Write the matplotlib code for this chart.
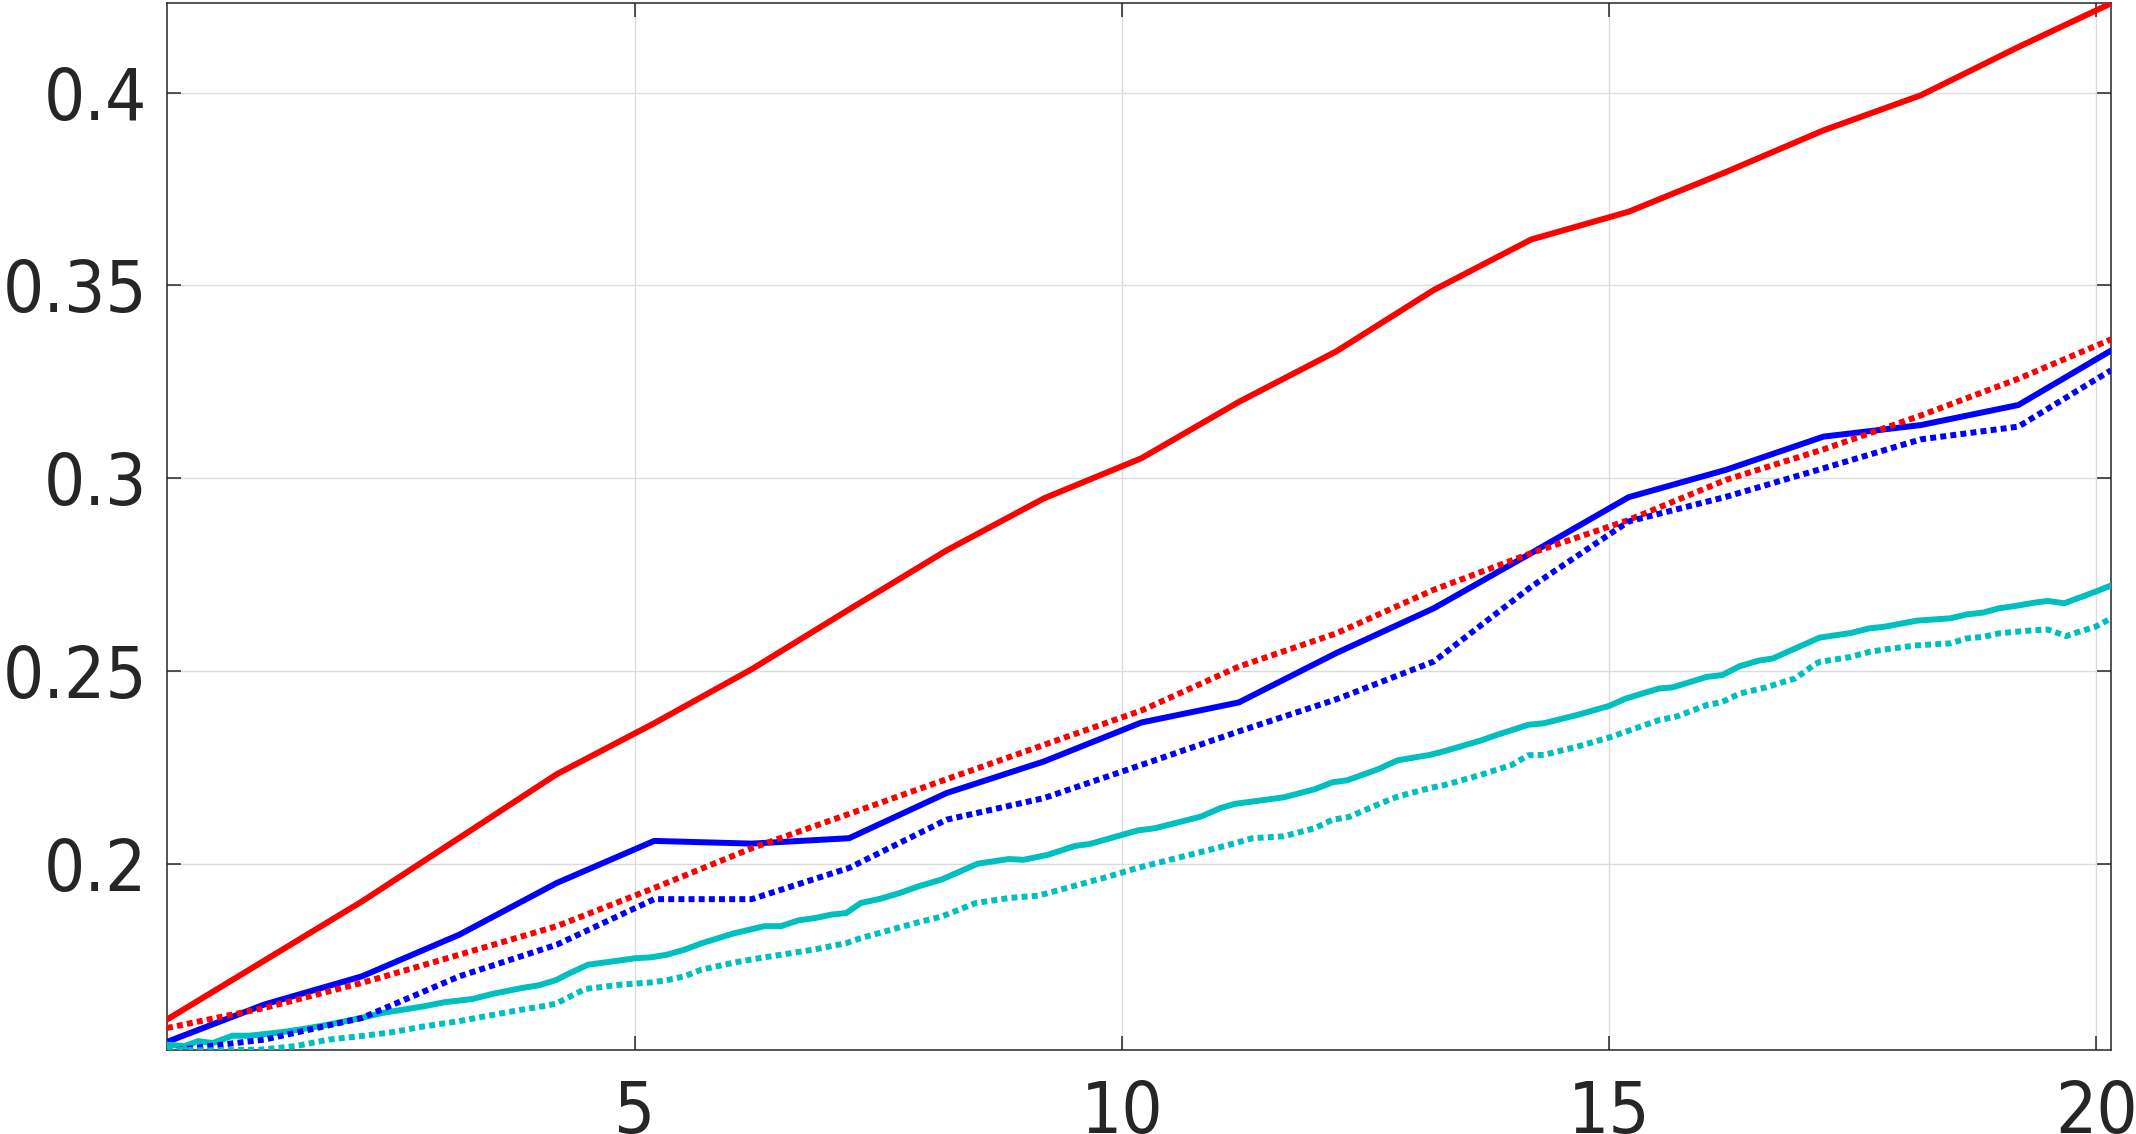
import matplotlib
matplotlib.use("Agg")
import matplotlib.pyplot as plt
import numpy as np

# ---- data ----
x_main = [0.2, 1.2, 2.2, 3.2, 4.2, 5.2, 6.2, 7.2, 8.2, 9.2, 10.2,
          11.2, 12.2, 13.2, 14.2, 15.2, 16.2, 17.2, 18.2, 19.2, 20.15]
red_solid = [0.1597, 0.1750, 0.1903, 0.2068, 0.2233, 0.2365, 0.2505, 0.2660, 0.2813, 0.2948, 0.3052,
             0.3198, 0.3329, 0.3488, 0.3619, 0.3691, 0.3794, 0.3902, 0.3993, 0.4118, 0.4231]
blue_solid = [0.1539, 0.1636, 0.1709, 0.1817, 0.1951, 0.2060, 0.2053, 0.2067, 0.2184, 0.2266, 0.2367,
              0.2419, 0.2547, 0.2663, 0.2806, 0.2951, 0.3022, 0.3108, 0.3138, 0.3190, 0.3331]
red_dotted = [0.1575, 0.1627, 0.1692, 0.1765, 0.1839, 0.1938, 0.2041, 0.2130, 0.2220, 0.2309, 0.2398,
              0.2512, 0.2598, 0.2711, 0.2806, 0.2892, 0.2996, 0.3075, 0.3163, 0.3258, 0.3360]
blue_dotted = [0.1515, 0.1545, 0.1601, 0.1709, 0.1791, 0.1909, 0.1909, 0.1990, 0.2115, 0.2171, 0.2257,
               0.2344, 0.2427, 0.2525, 0.2719, 0.2888, 0.2952, 0.3026, 0.3101, 0.3134, 0.3280]

x_cyan_solid = [0.2, 0.38, 0.52, 0.67, 0.87, 1.04, 1.37, 1.61, 1.86, 2.19, 2.41, 2.83, 3.05, 3.33,
                3.55, 3.85, 4.02, 4.19, 4.34, 4.52, 4.84, 5.01, 5.16, 5.33, 5.51, 5.68, 6.01, 6.18,
                6.33, 6.5, 6.68, 6.85, 7.02, 7.17, 7.32, 7.52, 7.72, 7.91, 8.15, 8.52, 8.84, 8.99,
                9.24, 9.52, 9.67, 10.16, 10.34, 10.81, 11.01, 11.16, 11.66, 11.98, 12.16, 12.31,
                12.63, 12.83, 13.16, 13.3, 13.68, 13.85, 14.17, 14.33, 14.68, 15.0, 15.17, 15.51,
                15.65, 16.0, 16.16, 16.34, 16.53, 16.68, 16.91, 17.16, 17.48, 17.67, 17.82, 18.16,
                18.5, 18.67, 18.84, 19.0, 19.17, 19.35, 19.5, 19.67, 19.82, 19.99, 20.15]
cyan_solid = [0.1532, 0.1528, 0.1541, 0.1536, 0.1555, 0.1555, 0.1564, 0.1573, 0.1584, 0.1601, 0.1614,
              0.1631, 0.1642, 0.1650, 0.1664, 0.1679, 0.1686, 0.1699, 0.1718, 0.1739, 0.1750, 0.1756,
              0.1758, 0.1765, 0.1778, 0.1794, 0.1820, 0.1830, 0.1839, 0.1839, 0.1854, 0.1860, 0.1869,
              0.1873, 0.1899, 0.1910, 0.1925, 0.1942, 0.1960, 0.2001, 0.2013, 0.2011, 0.2024, 0.2047,
              0.2052, 0.2087, 0.2093, 0.2123, 0.2145, 0.2156, 0.2173, 0.2194, 0.2212, 0.2217, 0.2246,
              0.2269, 0.2283, 0.2292, 0.2320, 0.2335, 0.2361, 0.2365, 0.2387, 0.2410, 0.2429, 0.2455,
              0.2458, 0.2485, 0.2490, 0.2513, 0.2527, 0.2533, 0.2559, 0.2587, 0.2599, 0.2611, 0.2615,
              0.2631, 0.2637, 0.2647, 0.2652, 0.2663, 0.2669, 0.2677, 0.2682, 0.2676, 0.2690, 0.2706,
              0.2722]

x_cyan_dotted = [0.2, 0.62, 1.17, 1.52, 1.86, 2.19, 2.51, 2.83, 3.18, 3.5, 3.85, 4.05, 4.19, 4.34,
                 4.49, 4.84, 5.16, 5.33, 5.51, 5.68, 6.01, 6.18, 6.5, 6.83, 7.17, 7.32, 7.52, 7.72,
                 7.91, 8.15, 8.5, 8.84, 9.14, 9.49, 9.84, 10.16, 10.49, 10.84, 11.16, 11.34, 11.66,
                 11.98, 12.16, 12.33, 12.66, 12.83, 13.16, 13.33, 13.68, 14.0, 14.17, 14.33, 14.68,
                 15.0, 15.17, 15.51, 15.7, 16.0, 16.16, 16.34, 16.61, 16.76, 16.91, 17.1, 17.16,
                 17.48, 17.67, 17.82, 18.16, 18.5, 18.67, 18.84, 19.0, 19.17, 19.35, 19.5, 19.69,
                 19.82, 19.99, 20.15]
cyan_dotted = [0.1519, 0.1517, 0.1519, 0.1528, 0.1545, 0.1554, 0.1564, 0.1579, 0.1592, 0.1607, 0.1623,
               0.1631, 0.1638, 0.1657, 0.1676, 0.1687, 0.1693, 0.1699, 0.1709, 0.1726, 0.1744, 0.1752,
               0.1765, 0.1778, 0.1795, 0.1808, 0.1822, 0.1836, 0.1849, 0.1864, 0.1899, 0.1912, 0.1918,
               0.1942, 0.1966, 0.1990, 0.2011, 0.2033, 0.2054, 0.2067, 0.2072, 0.2093, 0.2115, 0.2122,
               0.2158, 0.2175, 0.2197, 0.2206, 0.2231, 0.2257, 0.2282, 0.2283, 0.2305, 0.2328, 0.2343,
               0.2373, 0.2383, 0.2412, 0.2420, 0.2442, 0.2458, 0.2470, 0.2481, 0.2516, 0.2524, 0.2537,
               0.2550, 0.2556, 0.2567, 0.2572, 0.2585, 0.2589, 0.2598, 0.2602, 0.2606, 0.2608, 0.2591,
               0.2602, 0.2615, 0.2637]

x_ticks = [5, 10, 15, 20]
y_ticks = [0.2, 0.25, 0.3, 0.35, 0.4]
y_ticklabels = ["0.2", "0.25", "0.3", "0.35", "0.4"]

# ---- style ----
RED = "#FF0000"
BLUE = "#0000FF"
CYAN = "#00BFBF"
LW = 4.3
DOT = (0, (1.0, 0.7))
AX_COL = "#262626"

fig = plt.figure(figsize=(21.36, 11.34), dpi=100)
ax = fig.add_axes([167 / 2136, 1 - 1050 / 1134, (2111 - 167) / 2136, (1050 - 3) / 1134])

ax.plot(x_main, red_solid, color=RED, lw=LW, solid_joinstyle="round", zorder=3)
ax.plot(x_main, blue_solid, color=BLUE, lw=LW, solid_joinstyle="round", zorder=3)
ax.plot(x_cyan_solid, cyan_solid, color=CYAN, lw=LW, solid_joinstyle="round", zorder=3)
ax.plot(x_main, red_dotted, color=RED, lw=LW, linestyle=DOT, dash_capstyle="butt", zorder=3)
ax.plot(x_main, blue_dotted, color=BLUE, lw=LW, linestyle=DOT, dash_capstyle="butt", zorder=3)
ax.plot(x_cyan_dotted, cyan_dotted, color=CYAN, lw=LW, linestyle=DOT, dash_capstyle="butt", zorder=3)

ax.set_xlim(0.2, 20.15)
ax.set_ylim(0.1518, 0.4232)
ax.set_xticks(x_ticks)
ax.set_yticks(y_ticks)
ax.set_yticklabels(y_ticklabels)

ax.grid(True, color="#DCDCDC", linewidth=1.0, zorder=0)
ax.set_axisbelow(True)
for s in ax.spines.values():
    s.set_color(AX_COL)
    s.set_linewidth(1.1)

ax.tick_params(axis="both", direction="in", length=10, width=1.1, color=AX_COL,
               labelcolor=AX_COL, top=True, right=True)
ax.tick_params(axis="y", pad=14)
ax.tick_params(axis="x", pad=21)
for lab in ax.get_xticklabels() + ax.get_yticklabels():
    lab.set_fontfamily("DejaVu Sans")
    lab.set_fontstretch("condensed")
    lab.set_fontsize(52)

fig.savefig("out.png", dpi=100)
